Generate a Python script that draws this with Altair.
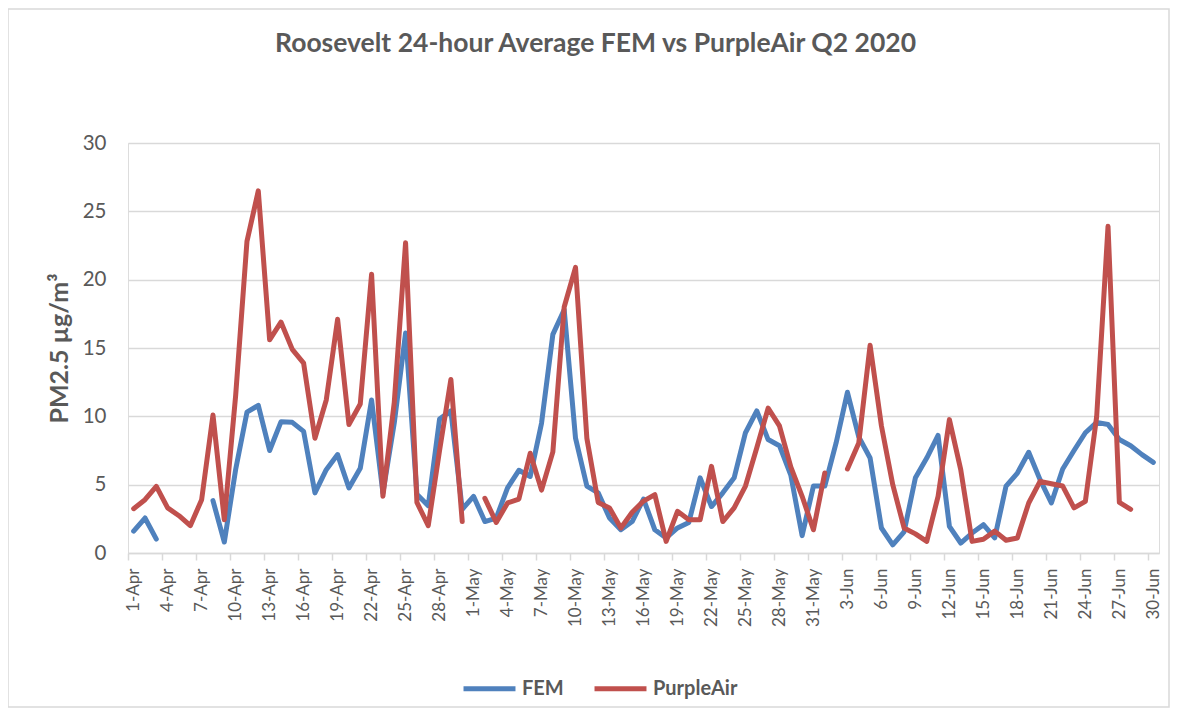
import altair as alt
import pandas as pd

# ---- data -------------------------------------------------------------
dates = [f"{d.day}-{d.strftime('%b')}" for d in pd.date_range("2020-04-01", "2020-06-30")]

fem = [1.6, 2.56, 1.02, None, None, None, None, 3.83, 0.8, 6.1,
       10.3, 10.8, 7.5, 9.6, 9.56, 8.9, 4.4, 6.1, 7.2, 4.76,
       6.2, 11.2, 4.4, 9.5, 16.1, 4.3, 3.46, 9.8, 10.4, 3.2,
       4.15, 2.3, 2.56, 4.76, 6.05, 5.6, 9.5, 16.0, 17.8, 8.4,
       4.9, 4.4, 2.56, 1.7, 2.3, 3.95, 1.7, 1.1, 1.83, 2.24,
       5.5, 3.4, 4.4, 5.5, 8.8, 10.4, 8.3, 7.85, 5.7, 1.27,
       4.9, 4.9, 8.05, 11.76, 8.5, 6.95, 1.83, 0.6, 1.55, 5.5,
       6.95, 8.6, 1.95, 0.73, 1.46, 2.07, 1.1, 4.9, 5.85, 7.37,
       5.37, 3.66, 6.15, 7.5, 8.8, 9.56, 9.4, 8.3, 7.85, 7.2,
       6.63]

purpleair = [3.24, 3.9, 4.88, 3.3, 2.73, 2.0, 3.9, 10.1, 2.44, 11.5,
             22.8, 26.5, 15.6, 16.9, 14.9, 13.9, 8.4, 11.2, 17.1, 9.4,
             10.9, 20.4, 4.15, 11.0, 22.7, 3.7, 2.0, 7.5, 12.7, 2.3,
             None, 4.0, 2.24, 3.66, 3.95, 7.3, 4.6, 7.4, 18.0, 20.9,
             8.4, 3.7, 3.3, 1.83, 2.98, 3.8, 4.27, 0.85, 3.05, 2.44,
             2.44, 6.34, 2.3, 3.3, 4.9, 7.7, 10.6, 9.3, 6.3, 4.15,
             1.7, 5.85, None, 6.15, 8.05, 15.2, 9.3, 5.0, 1.83, 1.4,
             0.85, 4.15, 9.76, 6.1, 0.85, 1.0, 1.6, 0.93, 1.1, 3.66,
             5.24, 5.07, 4.9, 3.3, 3.78, 10.0, 23.9, 3.7, 3.2, None,
             None]

series = ["FEM", "PurpleAir"]
colors = ["#4f81bd", "#c0504d"]
y_ticks = [0, 5, 10, 15, 20, 25, 30]
x_tick_idx = list(range(0, len(dates), 3))

rows = []
for name, vals in zip(series, [fem, purpleair]):
    for i, (d, v) in enumerate(zip(dates, vals)):
        rows.append({"i": i, "date": d, "series": name, "value": v})
df = pd.DataFrame(rows)

# ---- layout -----------------------------------------------------------
W, H = 1031, 410
band = W / len(dates)
TXT = "#595959"
GRID = "#d9d9d9"
FONT = "Lato"

label_expr = "[" + ",".join(f"'{d}'" for d in dates) + "][datum.value]"

lines = alt.Chart(df).mark_line(
    strokeWidth=5, strokeCap="round", strokeJoin="round",
    invalid="break-paths-filter-domains",
).encode(
    x=alt.X("i:Q",
            scale=alt.Scale(domain=[-0.5, len(dates) - 0.5], nice=False, zero=False),
            axis=alt.Axis(values=x_tick_idx, labelExpr=label_expr, title=None,
                          grid=False, domain=True, domainColor=GRID, domainWidth=1.5,
                          ticks=True, tickColor=GRID, tickWidth=1.5, tickSize=7,
                          tickOffset=-band / 2, labelOffset=band / 2,
                          labelAngle=270, labelAlign="right", labelBaseline="middle",
                          labelPadding=8, labelFontSize=17, labelColor=TXT,
                          labelFont=FONT, labelOverlap=False, labelFlush=False,
                          labelBound=False)),
    y=alt.Y("value:Q",
            scale=alt.Scale(domain=[0, 30], nice=False, zero=True),
            axis=alt.Axis(values=y_ticks, title="PM2.5 µg/m³", grid=True,
                          gridColor=GRID, gridWidth=1.5, domain=False, ticks=False,
                          labelPadding=22, labelFontSize=20.5, labelColor=TXT,
                          labelFont=FONT, titleFont=FONT, titleFontSize=25,
                          titleFontWeight="bold", titleColor=TXT, titleAngle=270,
                          titleX=-69, titleY=H / 2, titleAlign="center",
                          titleBaseline="middle")),
    color=alt.Color("series:N",
                    scale=alt.Scale(domain=series, range=colors),
                    legend=alt.Legend(title=None, orient="none", legendX=333,
                                      legendY=517, direction="horizontal",
                                      symbolType="stroke", symbolSize=2700,
                                      symbolStrokeWidth=5, labelFontSize=20,
                                      labelFontWeight="bold", labelColor=TXT,
                                      labelFont=FONT, columnPadding=20,
                                      labelOffset=4, padding=0)),
    order=alt.Order("i:Q"),
)

border = alt.Chart(pd.DataFrame({"k": [0]})).mark_rect(
    filled=False, stroke=GRID, strokeWidth=1.5
).encode(
    x=alt.value(-120), x2=alt.value(W + 10),
    y=alt.value(-134), y2=alt.value(H + 154),
)

chart = alt.layer(border, lines).properties(
    width=W, height=H,
    title=alt.Title("Roosevelt 24-hour Average FEM vs PurpleAir Q2 2020",
                    fontSize=26.5, font=FONT, fontWeight="bold", color=TXT,
                    anchor="middle", frame="group", dx=-48, offset=-49.5),
    autosize=alt.AutoSizeParams(type="none"),
    padding={"left": 120, "top": 135, "right": 11, "bottom": 155},
).configure_view(stroke=None).configure(background="white")

chart.save("out.html", embed_options={"renderer": "svg", "actions": False})
